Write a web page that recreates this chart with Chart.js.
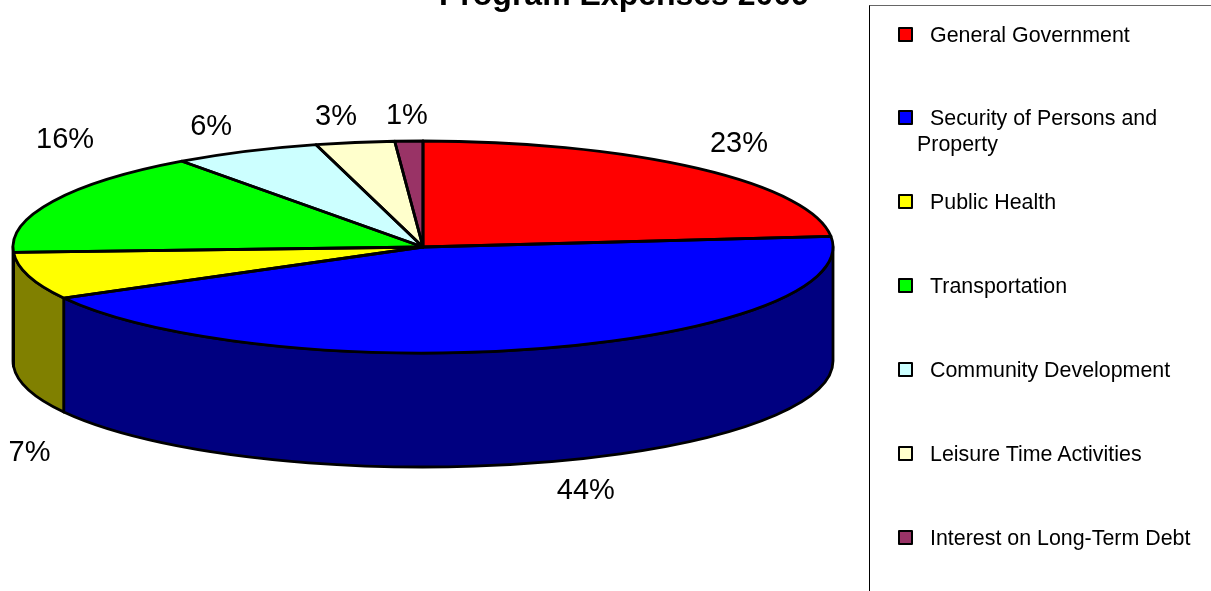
<!DOCTYPE html>
<html>
<head>
<meta charset="utf-8">
<title>Program Expenses 2009</title>
<script src="https://cdn.jsdelivr.net/npm/chart.js@4/dist/chart.umd.min.js"></script>
<style>
html, body { margin: 0; padding: 0; background: #fff; overflow: hidden; }
#wrap { position: relative; width: 1211px; height: 591px; overflow: hidden; font-family: "Liberation Sans", Arial, sans-serif; color: #000; }
#chart { position: absolute; left: 0; top: 0; }
#legend { position: absolute; left: 869px; top: 5px; width: 360px; height: 600px; border: 1px solid #000; border-top-color: #666; box-sizing: border-box; }
.item { position: absolute; left: 47px; width: 290px; font-size: 21.4px; line-height: 26px; text-indent: 13px; }
.item i { position: absolute; left: -19px; top: 5px; width: 11px; height: 11px; border: 2.5px solid #000; border-radius: 1px; }
</style>
</head>
<body>
<div id="wrap">
  <canvas id="chart" width="1211" height="591"></canvas>
  <div id="legend"></div>
</div>
<script>
const chartTitle = "Program Expenses 2009";
const categories = ["General Government", "Security of Persons and Property", "Public Health", "Transportation", "Community Development", "Leisure Time Activities", "Interest on Long-Term Debt"];
const shares = [23.4, 43.6, 7.2, 15.8, 5.8, 3.1, 1.1];
const sliceColors = ["#ff0000", "#0000ff", "#ffff00", "#00ff00", "#ccffff", "#ffffcc", "#993366"];
const sideColors = ["#800000", "#000080", "#808000", "#008000", "#668080", "#808066", "#4d1a33"];

// how the flat pie gets tilted
const pieRadius = 410;
const tilt = 106 / 410;
const depth = 114;

// percent labels, moved from the slice's rim point
const labelNudge = [[41, -24], [41, 29], [1, 63], [12, -61], [-35, -24], [-19, -25], [-2, -25]];

const pie3d = {
    id: 'pie3d',
    beforeDatasetsDraw(chart) {
        const ctx = chart.ctx;
        const arcs = chart.getDatasetMeta(0).data;
        const cx = arcs[0].x, cy = arcs[0].y;

        // side wall, only the front half of the rim shows
        ctx.save();
        ctx.lineWidth = 2.8;
        ctx.lineJoin = 'round';
        ctx.strokeStyle = '#000';
        arcs.forEach((arc, i) => {
            const a1 = Math.max(arc.startAngle, 0);
            const a2 = Math.min(arc.endAngle, Math.PI);
            if (a2 <= a1) return;
            ctx.beginPath();
            ctx.ellipse(cx, cy, pieRadius, pieRadius * tilt, 0, a1, a2);
            ctx.ellipse(cx, cy + depth, pieRadius, pieRadius * tilt, 0, a2, a1, true);
            ctx.closePath();
            ctx.fillStyle = sideColors[i];
            ctx.fill();
            ctx.stroke();
        });
        ctx.restore();

        // squash the library's own slices
        ctx.save();
        ctx.translate(cx, cy);
        ctx.scale(1, tilt);
        ctx.translate(-cx, -cy);
    },
    afterDatasetsDraw(chart) {
        const ctx = chart.ctx;
        ctx.restore();

        const arcs = chart.getDatasetMeta(0).data;
        const cx = arcs[0].x, cy = arcs[0].y;

        ctx.save();
        ctx.lineWidth = 2.8;
        ctx.lineJoin = 'round';
        ctx.strokeStyle = '#000';
        arcs.forEach(arc => {
            ctx.beginPath();
            ctx.moveTo(cx, cy);
            ctx.ellipse(cx, cy, pieRadius, pieRadius * tilt, 0, arc.startAngle, arc.endAngle);
            ctx.closePath();
            ctx.stroke();
        });

        ctx.fillStyle = '#000';
        ctx.textAlign = 'center';
        ctx.textBaseline = 'middle';
        ctx.font = '29px "Liberation Sans", Arial, sans-serif';
        arcs.forEach((arc, i) => {
            const mid = (arc.startAngle + arc.endAngle) / 2;
            const front = Math.sin(mid) > 0 ? depth : 0;
            const x = cx + pieRadius * Math.cos(mid) + labelNudge[i][0];
            const y = cy + pieRadius * tilt * Math.sin(mid) + front + labelNudge[i][1];
            ctx.fillText(Math.round(shares[i]) + '%', x, y);
        });

        // title sticks out of the top of the picture
        ctx.textBaseline = 'alphabetic';
        ctx.font = 'bold 32px "Liberation Sans", Arial, sans-serif';
        ctx.fillText(chartTitle, 624, 5);
        ctx.restore();
    }
};

new Chart(document.getElementById('chart').getContext('2d'), {
    type: 'pie',
    data: {
        labels: categories,
        datasets: [{
            data: shares,
            backgroundColor: sliceColors,
            borderWidth: 0,
            clip: false
        }]
    },
    options: {
        responsive: false,
        animation: false,
        radius: pieRadius,
        layout: { padding: { right: 365, bottom: 97 } },
        events: [],
        plugins: {
            legend: { display: false },
            title: { display: false },
            tooltip: { enabled: false }
        }
    },
    plugins: [pie3d]
});

// legend is plain html, the wrapped entry needs the hanging first line
const legend = document.getElementById('legend');
categories.forEach((name, i) => {
    const item = document.createElement('div');
    item.className = 'item';
    item.style.top = (15.5 + i * 83.9) + 'px';
    item.textContent = name;
    const box = document.createElement('i');
    box.style.background = sliceColors[i];
    item.prepend(box);
    legend.appendChild(item);
});
</script>
</body>
</html>
